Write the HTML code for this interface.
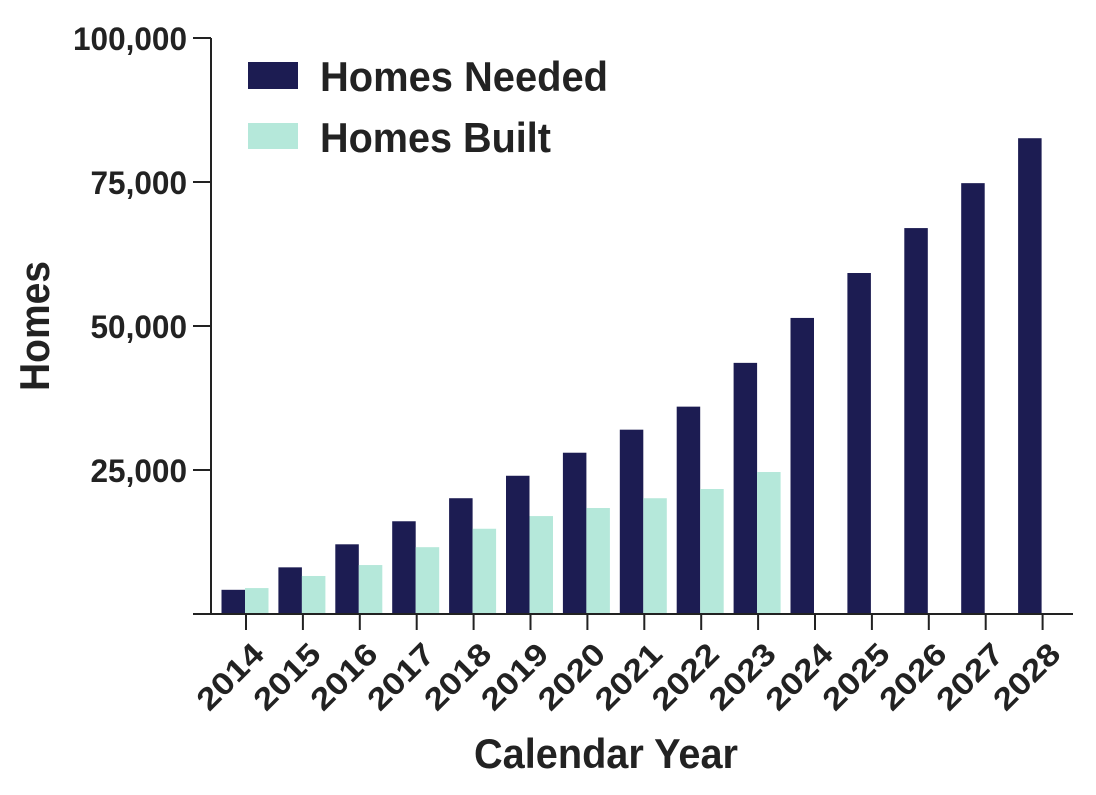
<!DOCTYPE html>
<html><head><meta charset="utf-8"><style>
body{margin:0;background:#fff}
svg text{font-family:"Liberation Sans Narrow","Liberation Sans",sans-serif;font-weight:bold;fill:#222}
</style></head><body>
<svg id="chart" width="1096" height="790" xmlns="http://www.w3.org/2000/svg">
<g id="bars"></g>
<line x1="211" y1="38" x2="211" y2="614" stroke="#222" stroke-width="2"/>
<line x1="193" y1="614" x2="1073" y2="614" stroke="#222" stroke-width="2"/>
<g id="yticks"></g>
<g id="xticks"></g>
<text x="38" y="326" font-size="42" text-anchor="middle" textLength="130" lengthAdjust="spacingAndGlyphs" transform="rotate(-90 38 326)" dominant-baseline="middle">Homes</text>
<text x="606" y="768" font-size="42" text-anchor="middle" textLength="264" lengthAdjust="spacingAndGlyphs">Calendar Year</text>
<g>
<rect x="248" y="62" width="50" height="27" fill="#1c1c52"/>
<text x="320" y="91" font-size="42" textLength="288" lengthAdjust="spacingAndGlyphs">Homes Needed</text>
<rect x="248" y="123" width="50" height="26" fill="#b5e8da"/>
<text x="320" y="152" font-size="42" textLength="231" lengthAdjust="spacingAndGlyphs">Homes Built</text>
</g>
</svg>
<script>
const categories=["2014","2015","2016","2017","2018","2019","2020","2021","2022","2023","2024","2025","2026","2027","2028"];
const needed=[4200,8100,12100,16100,20100,24000,28000,32000,36000,43600,51400,59200,67000,74800,82600];
const built=[4500,6600,8500,11600,14800,17000,18400,20100,21700,24650,null,null,null,null,null];
const yTicks=[25000,50000,75000,100000];
const yTickLabels=["25,000","50,000","75,000","100,000"];
const NS="http://www.w3.org/2000/svg";
const y0=614,yTop=38,maxV=100000;
const y=v=>y0-(v/maxV)*(y0-yTop);
const x=i=>246+i*56.9;
const bw=23.5;
const bars=document.getElementById('bars');
function mk(tag,attrs,parent){const e=document.createElementNS(NS,tag);for(const k in attrs)e.setAttribute(k,attrs[k]);parent.appendChild(e);return e;}
categories.forEach((c,i)=>{
  const r=mk('rect',{x:x(i)-bw-1,y:y(needed[i]),width:bw,height:y0-y(needed[i]),fill:'#1c1c52'},bars);
  
  
  if(built[i]!=null){
    const b=mk('rect',{x:x(i)-1,y:y(built[i]),width:bw,height:y0-y(built[i]),fill:'#b5e8da'},bars);
    
    
  }
  const xt=document.getElementById('xticks');
  const t=mk('line',{x1:x(i),x2:x(i),y1:y0,y2:630,stroke:'#222','stroke-width':2},xt);
  
  
  const lx=x(i)+4,ly=640;
  const tx=mk('text',{x:lx,y:ly,'font-size':31,'text-anchor':'end','dominant-baseline':'hanging',textLength:80,lengthAdjust:'spacingAndGlyphs',transform:`rotate(-45 ${lx} ${ly})`},xt);
  tx.textContent=c;
  
  
});
const yt=document.getElementById('yticks');
yTicks.forEach((v,i)=>{
  const l=mk('line',{x1:193,x2:211,y1:y(v),y2:y(v),stroke:'#222','stroke-width':2},yt);
  
  
  const lab=yTickLabels[i];
  const w=(lab.length-1)*17.5+9;
  const t=mk('text',{x:187,y:y(v)+12,'font-size':32,'text-anchor':'end',textLength:w,lengthAdjust:'spacingAndGlyphs'},yt);
  t.textContent=lab;
  
  
});
</script>
</body></html>
